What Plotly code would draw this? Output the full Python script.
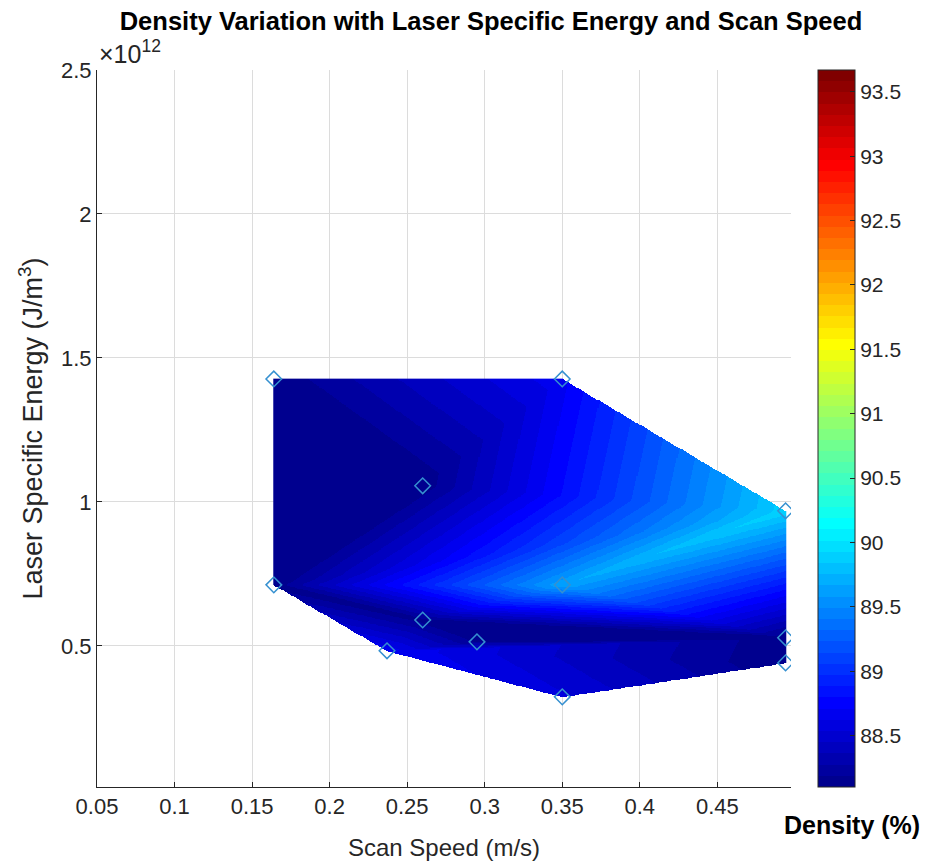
import numpy as np
import plotly.graph_objects as go

# Measured samples: scan speed (m/s), laser specific energy (x1e12 J/m^3), density (%)
scan_speed = [0.164, 0.164, 0.350, 0.260, 0.350, 0.260, 0.237, 0.295, 0.350, 0.494, 0.494, 0.494]
energy_e12 = [1.427, 0.712, 1.427, 1.056, 0.712, 0.590, 0.483, 0.514, 0.323, 0.969, 0.528, 0.441]
density = [88.12, 88.13, 88.68, 88.12, 89.65, 88.15, 88.70, 88.18, 88.55, 89.90, 88.12, 88.10]

x_ticks = [0.05, 0.1, 0.15, 0.2, 0.25, 0.3, 0.35, 0.4, 0.45]
y_ticks = [0.5, 1, 1.5, 2, 2.5]
cbar_ticks = [88.5, 89, 89.5, 90, 90.5, 91, 91.5, 92, 92.5, 93, 93.5]
c_min, c_max = 88.10, 93.67


def jet(m=64):
    n = int(np.ceil(m / 4))
    u = np.concatenate([np.arange(1, n + 1) / n, np.ones(n - 1), np.arange(n, 0, -1) / n])
    g = int(np.ceil(n / 2)) - (1 if m % 4 == 1 else 0) + np.arange(1, len(u) + 1)
    r = g + n
    b = g - n
    J = np.zeros((m, 3))
    rm = r <= m
    J[r[rm] - 1, 0] = u[: rm.sum()]
    J[g - 1, 1] = u
    bm = b >= 1
    J[b[bm] - 1, 2] = u[len(u) - bm.sum():]
    return J


def stepped_scale(J):
    m = len(J)
    scale = []
    for i, c in enumerate(J):
        col = "rgb(%d,%d,%d)" % tuple(np.round(c * 255).astype(int))
        scale.append([i / m, col])
        scale.append([(i + 1) / m, col])
    return scale


def orient(a, b, c):
    return (b[0] - a[0]) * (c[1] - a[1]) - (b[1] - a[1]) * (c[0] - a[0])


def in_circle(a, b, c, d):
    rows = []
    for p in (a, b, c):
        dx, dy = p[0] - d[0], p[1] - d[1]
        rows.append([dx, dy, dx * dx + dy * dy])
    return np.linalg.det(np.array(rows))


def delaunay(p):
    n = len(p)
    tris = []
    for i in range(n):
        for j in range(i + 1, n):
            for k in range(j + 1, n):
                a, b, c = p[i], p[j], p[k]
                o = orient(a, b, c)
                if abs(o) < 1e-15:
                    continue
                if o < 0:
                    b, c = c, b
                ok = True
                for mm in range(n):
                    if mm in (i, j, k):
                        continue
                    if in_circle(a, b, c, p[mm]) > 1e-15:
                        ok = False
                        break
                if ok:
                    tris.append((i, j, k))
    return tris


px = np.array(scan_speed)
py = np.array(energy_e12)
pz = np.array(density)
pts = np.column_stack([px, py])
# triangulate in raw units (m/s vs J/m^3), where the energy axis dominates
tri_pts = np.column_stack([px * 1e-3, py])
tris = delaunay(tri_pts)

# linear interpolation on a regular grid over the triangulated region
gx = np.linspace(px.min(), px.max(), 500)
gy = np.linspace(py.min(), py.max(), 500)
GX, GY = np.meshgrid(gx, gy)
GZ = np.full(GX.shape, np.nan)
for (i, j, k) in tris:
    (x1, y1), (x2, y2), (x3, y3) = pts[i], pts[j], pts[k]
    det = (y2 - y3) * (x1 - x3) + (x3 - x2) * (y1 - y3)
    l1 = ((y2 - y3) * (GX - x3) + (x3 - x2) * (GY - y3)) / det
    l2 = ((y3 - y1) * (GX - x3) + (x1 - x3) * (GY - y3)) / det
    l3 = 1 - l1 - l2
    inside = (l1 >= -1e-9) & (l2 >= -1e-9) & (l3 >= -1e-9) & np.isnan(GZ)
    GZ[inside] = (l1 * pz[i] + l2 * pz[j] + l3 * pz[k])[inside]

font = "Liberation Sans, Arial, sans-serif"
ink = "#262626"
L, R, T, B = 97, 137, 70, 76
plot_w = 928 - L - R
plot_h = 863 - T - B

fig = go.Figure()
fig.add_trace(go.Heatmap(
    x=gx, y=gy, z=GZ, zmin=c_min, zmax=c_max,
    colorscale=stepped_scale(jet(64)), zsmooth=False, hoverinfo="skip",
    colorbar=dict(
        x=(818 - L) / plot_w, xanchor="left", xref="paper",
        y=0, yanchor="bottom", yref="paper",
        len=1, lenmode="fraction", thickness=37, thicknessmode="pixels",
        outlinecolor=ink, outlinewidth=1, xpad=0, ypad=0,
        tickvals=cbar_ticks, ticktext=[("%g" % v) for v in cbar_ticks],
        ticks="inside", ticklen=5, tickcolor=ink,
        tickfont=dict(family=font, size=21, color=ink),
    ),
))
fig.add_trace(go.Scatter(
    x=px, y=py, mode="markers", hoverinfo="skip",
    marker=dict(symbol="diamond-open", size=12, color="#3590d0", line=dict(width=1.5)),
))

fig.update_layout(
    width=928, height=863, paper_bgcolor="white", plot_bgcolor="white",
    margin=dict(l=L, r=R, t=T, b=B, autoexpand=False),
    showlegend=False,
    title=dict(text="<b>Density Variation with Laser Specific Energy and Scan Speed</b>",
               x=491 / 928, xanchor="center", y=1 - 21 / 863, yanchor="middle",
               font=dict(family=font, size=25.5, color="black")),
    xaxis=dict(range=[0.05, 0.4975], tickvals=x_ticks, ticktext=[("%g" % v) for v in x_ticks],
               automargin=False,
               showgrid=True, gridcolor="#dcdcdc", gridwidth=1, zeroline=False,
               showline=True, linecolor=ink, linewidth=1, ticks="inside", ticklen=5, tickcolor=ink,
               tickfont=dict(family=font, size=22, color=ink),
               title=dict(text="Scan Speed (m/s)", font=dict(family=font, size=24, color=ink), standoff=20)),
    yaxis=dict(range=[0.01, 2.5], tickvals=y_ticks, ticktext=[("%g" % v) for v in y_ticks],
               automargin=False,
               showgrid=True, gridcolor="#dcdcdc", gridwidth=1, zeroline=False,
               showline=True, linecolor=ink, linewidth=1, ticks="inside", ticklen=5, tickcolor=ink,
               tickfont=dict(family=font, size=22, color=ink),
               title=dict(text="Laser Specific Energy (J/m<sup>3</sup>)",
                          font=dict(family=font, size=27, color=ink), standoff=10)),
    annotations=[
        dict(text="\u00d710<sup>12</sup>", xref="paper", yref="paper", x=0, y=1, xanchor="left",
             yanchor="bottom", yshift=0, showarrow=False, font=dict(family=font, size=25, color=ink)),
        dict(text="<b>Density (%)</b>", xref="paper", yref="paper", x=(852 - L) / plot_w,
             y=-(825 - (863 - B)) / plot_h, xanchor="center", yanchor="middle", showarrow=False,
             font=dict(family=font, size=25, color="black")),
    ],
)

fig.write_html("out.html")
